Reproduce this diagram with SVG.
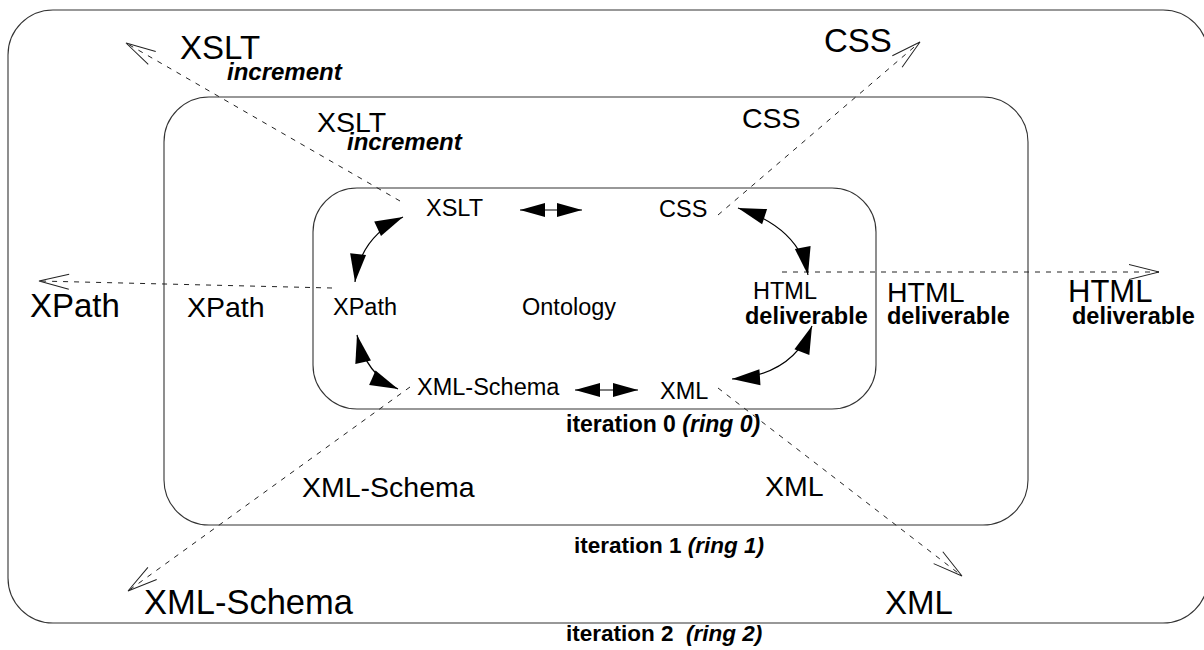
<svg xmlns="http://www.w3.org/2000/svg" width="1204" height="650" viewBox="0 0 1204 650">
<style>
.ring{fill:none;stroke:#333;stroke-width:1.1}
.t{font-family:"Liberation Sans",Arial,sans-serif;fill:#000}
.s1{font-size:23.5px}
.s2{font-size:28.5px}
.s3{font-size:33px}
.b{font-weight:bold;font-size:23.5px}
.bi{font-weight:bold;font-style:italic;font-size:24px}
.cap{font-weight:bold;font-size:22.5px}
.capi{font-style:italic}
.dash{fill:none;stroke:#222;stroke-width:1;stroke-dasharray:5,6;marker-end:url(#oh)}
.solid{fill:none;stroke:#000;stroke-width:1.2}
.cur{marker-start:url(#fh);marker-end:url(#fh)}
.str{marker-start:url(#sh);marker-end:url(#sh)}
</style>
<defs>
<marker id="oh" markerUnits="userSpaceOnUse" markerWidth="34" markerHeight="18" refX="31" refY="8" orient="auto" overflow="visible">
<path d="M1,0.5 L31,8 L1,15.5" fill="none" stroke="#222" stroke-width="1"/>
</marker>
<marker id="fh" markerUnits="userSpaceOnUse" markerWidth="30" markerHeight="18" refX="28" refY="8" orient="auto-start-reverse" overflow="visible">
<path d="M0,0 L28,8 L0,16 Z" fill="#000"/>
</marker>
<marker id="sh" markerUnits="userSpaceOnUse" markerWidth="27" markerHeight="16" refX="25" refY="7" orient="auto-start-reverse" overflow="visible">
<path d="M0,0 L25,7 L0,14 Z" fill="#000"/>
</marker>
</defs>
<rect width="1204" height="650" fill="#fff"/>

<g id="ring2">
<rect class="ring" x="8" y="10" width="1200" height="613" rx="45" ry="45"/>
<text class="t cap" x="566" y="641" xml:space="preserve">iteration 2  <tspan class="capi">(ring 2)</tspan></text>
</g>
<g id="ring1">
<rect class="ring" x="164" y="97" width="864" height="428" rx="45" ry="45"/>
<text class="t cap" x="574" y="553">iteration 1 <tspan class="capi">(ring 1)</tspan></text>
</g>
<g id="ring0">
<rect class="ring" x="313" y="188" width="563" height="221" rx="44" ry="44"/>
<text class="t cap" x="566" y="432" style="font-size:23px">iteration 0 <tspan class="capi">(ring 0)</tspan></text>
</g>

<g id="connectors">
<path class="dash" d="M400,201 L126,43"/>
<path class="dash" d="M718,215 L920,42"/>
<path class="dash" d="M782,272 L1159,272"/>
<path class="dash" d="M332,288 L39,281"/>
<path class="dash" d="M410,387 L128,591"/>
<path class="dash" d="M718,388 L962,576"/>
<path class="solid str" d="M520,210 L582,210"/>
<path class="solid str" d="M575,390 L638,390"/>
<path class="solid cur" d="M355,282 Q360,237 403,217"/>
<path class="solid cur" d="M357,335 Q366,375 398,389"/>
<path class="solid cur" d="M738,208 Q799,228 808,275"/>
<path class="solid cur" d="M812,326 Q793,375 732,379"/>
</g>

<g id="ontology"><text class="t s1" x="522" y="315">Ontology</text></g>

<g id="xslt">
<text class="t s1" x="426" y="216">XSLT</text>
<text class="t s2" x="317" y="132">XSLT</text>
<text class="t bi" x="347" y="150">increment</text>
<text class="t s3" x="180" y="59">XSLT</text>
<text class="t bi" x="227" y="80">increment</text>
</g>
<g id="css">
<text class="t s1" x="659" y="217">CSS</text>
<text class="t s2" x="742" y="128">CSS</text>
<text class="t s3" x="824" y="52">CSS</text>
</g>
<g id="xpath">
<text class="t s1" x="333" y="315">XPath</text>
<text class="t s2" x="187" y="317">XPath</text>
<text class="t s3" x="30" y="317">XPath</text>
</g>
<g id="html">
<text class="t s1" x="753" y="299">HTML</text>
<text class="t b" x="745" y="324">deliverable</text>
<text class="t s2" x="887" y="302">HTML</text>
<text class="t b" x="887" y="324">deliverable</text>
<text class="t" style="font-size:31px" x="1068" y="302">HTML</text>
<text class="t b" x="1072" y="324">deliverable</text>
</g>
<g id="xmlschema">
<text class="t s1" x="417" y="395">XML-Schema</text>
<text class="t s2" x="302" y="497">XML-Schema</text>
<text class="t" style="font-size:34.5px" x="144" y="614">XML-Schema</text>
</g>
<g id="xml">
<text class="t s1" x="660" y="399">XML</text>
<text class="t s2" x="765" y="496">XML</text>
<text class="t s3" x="885" y="614">XML</text>
</g>
</svg>
